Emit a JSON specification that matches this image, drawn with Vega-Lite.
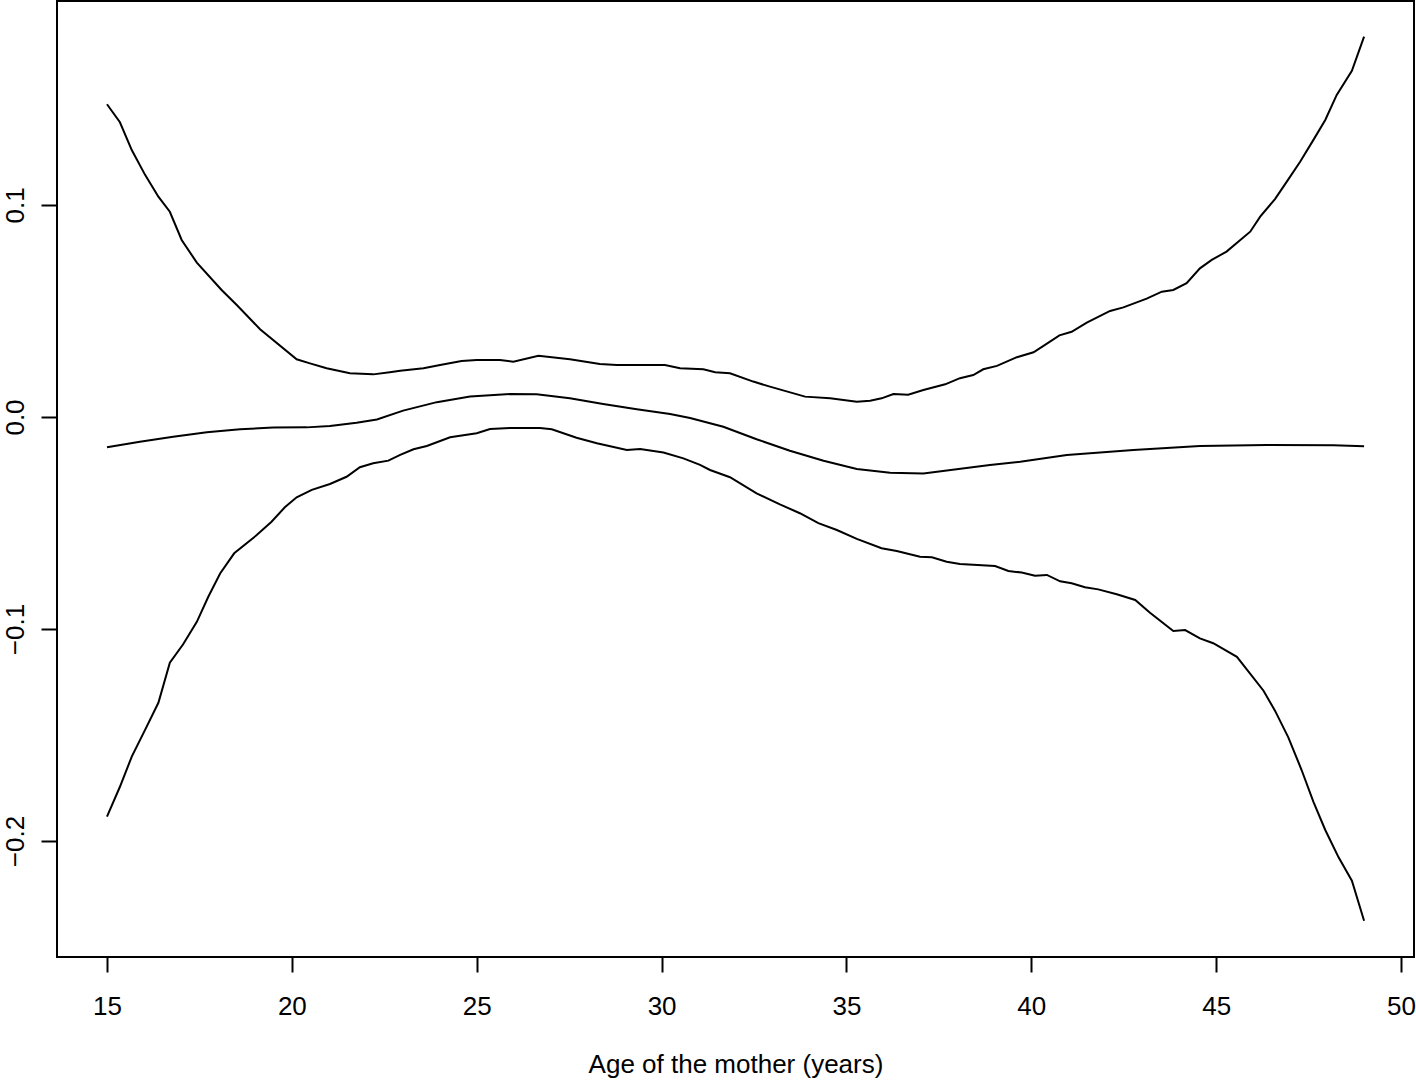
{
  "$schema": "https://vega.github.io/schema/vega-lite/v6.json",
  "autosize": "none",
  "width": 1357,
  "height": 956,
  "padding": {"left": 57, "top": 1, "right": 2, "bottom": 124},
  "background": "white",
  "config": {
    "view": {"stroke": "black", "strokeWidth": 2},
    "font": "Liberation Sans",
    "axis": {"grid": false, "domain": false, "tickColor": "black", "tickWidth": 2, "labelColor": "black", "titleColor": "black", "labelFont": "Liberation Sans", "titleFont": "Liberation Sans", "labelFontSize": 26, "titleFontSize": 26, "titleFontWeight": "normal"}
  },
  "data": {"values": [
    {"curve":"upper","age":15.0,"value":0.1475},
    {"curve":"upper","age":15.35,"value":0.1390},
    {"curve":"upper","age":15.67,"value":0.1259},
    {"curve":"upper","age":16.03,"value":0.1142},
    {"curve":"upper","age":16.39,"value":0.1039},
    {"curve":"upper","age":16.70,"value":0.0968},
    {"curve":"upper","age":17.02,"value":0.0835},
    {"curve":"upper","age":17.43,"value":0.0728},
    {"curve":"upper","age":18.10,"value":0.0599},
    {"curve":"upper","age":18.51,"value":0.0528},
    {"curve":"upper","age":19.14,"value":0.0414},
    {"curve":"upper","age":20.13,"value":0.0272},
    {"curve":"upper","age":20.49,"value":0.0253},
    {"curve":"upper","age":20.94,"value":0.0230},
    {"curve":"upper","age":21.57,"value":0.0206},
    {"curve":"upper","age":22.20,"value":0.0201},
    {"curve":"upper","age":22.65,"value":0.0211},
    {"curve":"upper","age":22.93,"value":0.0218},
    {"curve":"upper","age":23.56,"value":0.0230},
    {"curve":"upper","age":24.01,"value":0.0245},
    {"curve":"upper","age":24.59,"value":0.0264},
    {"curve":"upper","age":25.00,"value":0.0269},
    {"curve":"upper","age":25.63,"value":0.0269},
    {"curve":"upper","age":25.99,"value":0.0261},
    {"curve":"upper","age":26.67,"value":0.0289},
    {"curve":"upper","age":27.52,"value":0.0272},
    {"curve":"upper","age":28.33,"value":0.0250},
    {"curve":"upper","age":28.79,"value":0.0245},
    {"curve":"upper","age":29.42,"value":0.0245},
    {"curve":"upper","age":30.09,"value":0.0245},
    {"curve":"upper","age":30.50,"value":0.0230},
    {"curve":"upper","age":31.13,"value":0.0225},
    {"curve":"upper","age":31.45,"value":0.0211},
    {"curve":"upper","age":31.85,"value":0.0206},
    {"curve":"upper","age":32.48,"value":0.0167},
    {"curve":"upper","age":32.93,"value":0.0143},
    {"curve":"upper","age":33.88,"value":0.0096},
    {"curve":"upper","age":34.56,"value":0.0088},
    {"curve":"upper","age":35.28,"value":0.0072},
    {"curve":"upper","age":35.64,"value":0.0077},
    {"curve":"upper","age":35.95,"value":0.0088},
    {"curve":"upper","age":36.27,"value":0.0108},
    {"curve":"upper","age":36.67,"value":0.0105},
    {"curve":"upper","age":37.08,"value":0.0127},
    {"curve":"upper","age":37.67,"value":0.0154},
    {"curve":"upper","age":38.07,"value":0.0183},
    {"curve":"upper","age":38.43,"value":0.0198},
    {"curve":"upper","age":38.70,"value":0.0225},
    {"curve":"upper","age":39.07,"value":0.0241},
    {"curve":"upper","age":39.61,"value":0.0282},
    {"curve":"upper","age":40.06,"value":0.0305},
    {"curve":"upper","age":40.37,"value":0.0340},
    {"curve":"upper","age":40.76,"value":0.0385},
    {"curve":"upper","age":41.09,"value":0.0402},
    {"curve":"upper","age":41.50,"value":0.0445},
    {"curve":"upper","age":42.13,"value":0.0500},
    {"curve":"upper","age":42.49,"value":0.0517},
    {"curve":"upper","age":43.12,"value":0.0558},
    {"curve":"upper","age":43.53,"value":0.0591},
    {"curve":"upper","age":43.84,"value":0.0599},
    {"curve":"upper","age":44.20,"value":0.0631},
    {"curve":"upper","age":44.56,"value":0.0701},
    {"curve":"upper","age":44.88,"value":0.0741},
    {"curve":"upper","age":45.28,"value":0.0780},
    {"curve":"upper","age":45.92,"value":0.0874},
    {"curve":"upper","age":46.19,"value":0.0945},
    {"curve":"upper","age":46.59,"value":0.1028},
    {"curve":"upper","age":46.91,"value":0.1110},
    {"curve":"upper","age":47.27,"value":0.1204},
    {"curve":"upper","age":47.63,"value":0.1307},
    {"curve":"upper","age":47.95,"value":0.1401},
    {"curve":"upper","age":48.26,"value":0.1519},
    {"curve":"upper","age":48.67,"value":0.1633},
    {"curve":"upper","age":49.0,"value":0.1794},
    {"curve":"fit","age":15.0,"value":-0.0143},
    {"curve":"fit","age":15.89,"value":-0.0117},
    {"curve":"fit","age":16.79,"value":-0.0093},
    {"curve":"fit","age":17.70,"value":-0.0072},
    {"curve":"fit","age":18.60,"value":-0.0058},
    {"curve":"fit","age":19.50,"value":-0.0050},
    {"curve":"fit","age":20.40,"value":-0.0049},
    {"curve":"fit","age":21.03,"value":-0.0042},
    {"curve":"fit","age":21.75,"value":-0.0027},
    {"curve":"fit","age":22.30,"value":-0.0012},
    {"curve":"fit","age":23.01,"value":0.0030},
    {"curve":"fit","age":23.92,"value":0.0070},
    {"curve":"fit","age":24.82,"value":0.0097},
    {"curve":"fit","age":25.90,"value":0.0108},
    {"curve":"fit","age":26.62,"value":0.0107},
    {"curve":"fit","age":27.52,"value":0.0088},
    {"curve":"fit","age":28.42,"value":0.0061},
    {"curve":"fit","age":29.33,"value":0.0036},
    {"curve":"fit","age":30.23,"value":0.0014},
    {"curve":"fit","age":30.77,"value":-0.0005},
    {"curve":"fit","age":31.67,"value":-0.0046},
    {"curve":"fit","age":32.57,"value":-0.0105},
    {"curve":"fit","age":33.47,"value":-0.0159},
    {"curve":"fit","age":34.38,"value":-0.0206},
    {"curve":"fit","age":35.28,"value":-0.0245},
    {"curve":"fit","age":36.18,"value":-0.0263},
    {"curve":"fit","age":37.08,"value":-0.0266},
    {"curve":"fit","age":37.98,"value":-0.0247},
    {"curve":"fit","age":38.88,"value":-0.0226},
    {"curve":"fit","age":39.70,"value":-0.0211},
    {"curve":"fit","age":40.96,"value":-0.0179},
    {"curve":"fit","age":42.76,"value":-0.0156},
    {"curve":"fit","age":44.56,"value":-0.0137},
    {"curve":"fit","age":46.37,"value":-0.0132},
    {"curve":"fit","age":48.17,"value":-0.0133},
    {"curve":"fit","age":49.0,"value":-0.0138},
    {"curve":"lower","age":15.0,"value":-0.1885},
    {"curve":"lower","age":15.35,"value":-0.1744},
    {"curve":"lower","age":15.67,"value":-0.1602},
    {"curve":"lower","age":16.03,"value":-0.1476},
    {"curve":"lower","age":16.39,"value":-0.1348},
    {"curve":"lower","age":16.70,"value":-0.1159},
    {"curve":"lower","age":17.06,"value":-0.1072},
    {"curve":"lower","age":17.43,"value":-0.0966},
    {"curve":"lower","age":17.74,"value":-0.0848},
    {"curve":"lower","age":18.06,"value":-0.0738},
    {"curve":"lower","age":18.44,"value":-0.0643},
    {"curve":"lower","age":19.05,"value":-0.0557},
    {"curve":"lower","age":19.45,"value":-0.0494},
    {"curve":"lower","age":19.81,"value":-0.0426},
    {"curve":"lower","age":20.13,"value":-0.0379},
    {"curve":"lower","age":20.54,"value":-0.0344},
    {"curve":"lower","age":21.03,"value":-0.0316},
    {"curve":"lower","age":21.48,"value":-0.0282},
    {"curve":"lower","age":21.84,"value":-0.0237},
    {"curve":"lower","age":22.20,"value":-0.0218},
    {"curve":"lower","age":22.61,"value":-0.0206},
    {"curve":"lower","age":22.93,"value":-0.0179},
    {"curve":"lower","age":23.29,"value":-0.0152},
    {"curve":"lower","age":23.65,"value":-0.0137},
    {"curve":"lower","age":24.28,"value":-0.0096},
    {"curve":"lower","age":25.00,"value":-0.0077},
    {"curve":"lower","age":25.36,"value":-0.0057},
    {"curve":"lower","age":25.90,"value":-0.0052},
    {"curve":"lower","age":26.71,"value":-0.0052},
    {"curve":"lower","age":27.03,"value":-0.0058},
    {"curve":"lower","age":27.70,"value":-0.0098},
    {"curve":"lower","age":28.25,"value":-0.0124},
    {"curve":"lower","age":29.06,"value":-0.0156},
    {"curve":"lower","age":29.42,"value":-0.0151},
    {"curve":"lower","age":30.05,"value":-0.0168},
    {"curve":"lower","age":30.59,"value":-0.0195},
    {"curve":"lower","age":31.04,"value":-0.0226},
    {"curve":"lower","age":31.31,"value":-0.0250},
    {"curve":"lower","age":31.85,"value":-0.0284},
    {"curve":"lower","age":32.57,"value":-0.0360},
    {"curve":"lower","age":33.20,"value":-0.0412},
    {"curve":"lower","age":33.74,"value":-0.0454},
    {"curve":"lower","age":34.24,"value":-0.0501},
    {"curve":"lower","age":34.74,"value":-0.0533},
    {"curve":"lower","age":35.28,"value":-0.0575},
    {"curve":"lower","age":35.95,"value":-0.0619},
    {"curve":"lower","age":36.36,"value":-0.0632},
    {"curve":"lower","age":36.99,"value":-0.0659},
    {"curve":"lower","age":37.31,"value":-0.0662},
    {"curve":"lower","age":37.71,"value":-0.0683},
    {"curve":"lower","age":38.07,"value":-0.0693},
    {"curve":"lower","age":39.02,"value":-0.0703},
    {"curve":"lower","age":39.38,"value":-0.0726},
    {"curve":"lower","age":39.74,"value":-0.0734},
    {"curve":"lower","age":40.10,"value":-0.0749},
    {"curve":"lower","age":40.42,"value":-0.0745},
    {"curve":"lower","age":40.78,"value":-0.0775},
    {"curve":"lower","age":41.09,"value":-0.0784},
    {"curve":"lower","age":41.45,"value":-0.0803},
    {"curve":"lower","age":41.81,"value":-0.0813},
    {"curve":"lower","age":42.31,"value":-0.0836},
    {"curve":"lower","age":42.81,"value":-0.0863},
    {"curve":"lower","age":43.21,"value":-0.0923},
    {"curve":"lower","age":43.84,"value":-0.1009},
    {"curve":"lower","age":44.16,"value":-0.1005},
    {"curve":"lower","age":44.56,"value":-0.1044},
    {"curve":"lower","age":44.92,"value":-0.1067},
    {"curve":"lower","age":45.56,"value":-0.1131},
    {"curve":"lower","age":46.28,"value":-0.1291},
    {"curve":"lower","age":46.59,"value":-0.1385},
    {"curve":"lower","age":46.95,"value":-0.1511},
    {"curve":"lower","age":47.31,"value":-0.1665},
    {"curve":"lower","age":47.63,"value":-0.1815},
    {"curve":"lower","age":47.95,"value":-0.1948},
    {"curve":"lower","age":48.31,"value":-0.2077},
    {"curve":"lower","age":48.67,"value":-0.2187},
    {"curve":"lower","age":49.0,"value":-0.2376}
  ]},
  "mark": {"type": "line", "color": "black", "strokeWidth": 2, "clip": true},
  "encoding": {
    "x": {
      "field": "age", "type": "quantitative",
      "scale": {"domain": [13.648, 50.35], "nice": false, "zero": false},
      "axis": {"values": [15, 20, 25, 30, 35, 40, 45, 50], "format": "d", "tickSize": 15, "labelPadding": 21, "title": "Age of the mother (years)", "titlePadding": 32, "labelFlush": false, "labelOverlap": false}
    },
    "y": {
      "field": "value", "type": "quantitative",
      "scale": {"domain": [-0.2547, 0.1962], "nice": false, "zero": false},
      "axis": {"values": [-0.2, -0.1, 0, 0.1], "format": ".1f", "tickSize": 16, "labelAngle": 270, "labelAlign": "center", "labelBaseline": "bottom", "labelPadding": 13, "title": null, "labelFlush": false, "labelOverlap": false}
    },
    "detail": {"field": "curve", "type": "nominal"}
  }
}
